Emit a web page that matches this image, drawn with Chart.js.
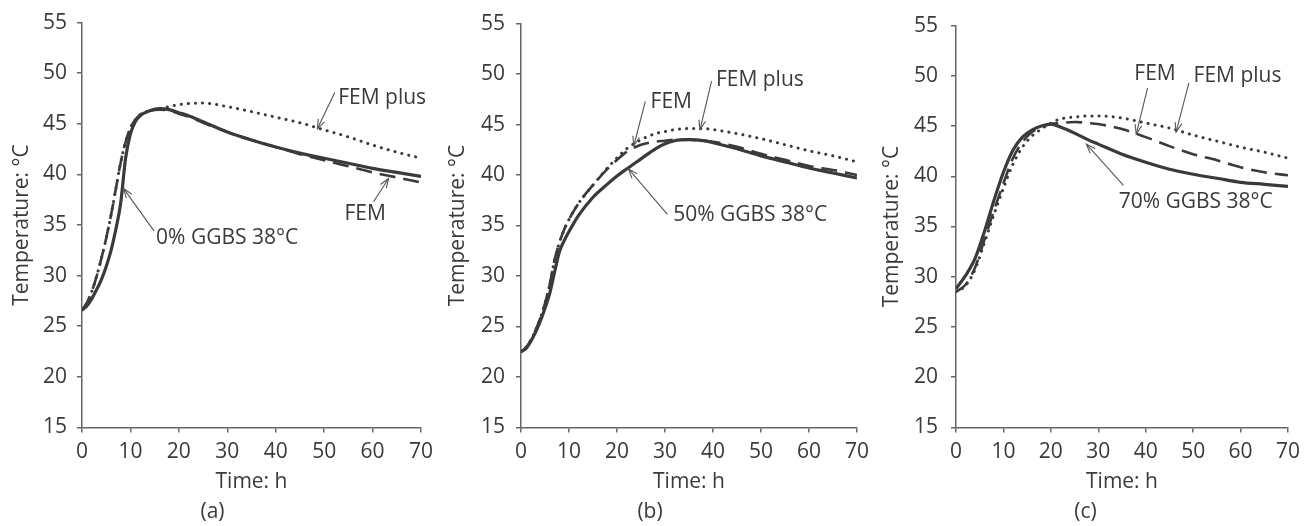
<!DOCTYPE html>
<html><head><meta charset="utf-8">
<script src="https://cdn.jsdelivr.net/npm/chart.js@4"></script>
<style>
html,body{margin:0;padding:0;background:#fff;width:1307px;height:526px;overflow:hidden}
canvas{position:absolute;top:0}
</style></head><body>
<canvas id="ca" width="440" height="526" style="left:0px"></canvas>
<canvas id="cb" width="437" height="526" style="left:439px"></canvas>
<canvas id="cc" width="433" height="526" style="left:874px"></canvas>
<script>
// ---- data (time in h, temperature in °C) ----
const xTicks = [0,10,20,30,40,50,60,70];
const yTicks = [15,20,25,30,35,40,45,50,55];

const timeA = [0,1,2,3,4,5,6,7,8,9,10,11,12,14,16,18,20,22,25,30,35,40,45,50,55,60,65,70];
const measuredA = [26.6,27.0,27.7,28.6,29.6,30.9,32.5,34.6,37.2,41.6,44.0,45.2,45.8,46.3,46.5,46.4,46.1,45.8,45.2,44.2,43.4,42.7,42.1,41.6,41.1,40.6,40.2,39.8];
const femA = [26.6,27.3,28.4,29.9,31.7,33.7,36.0,38.6,41.2,43.2,44.6,45.4,45.9,46.3,46.4,46.3,46.0,45.7,45.1,44.2,43.4,42.7,42.0,41.4,40.8,40.2,39.7,39.2];
const femPlusA = [26.6,27.3,28.4,29.9,31.7,33.7,36.0,38.6,41.2,43.2,44.6,45.4,45.9,46.3,46.5,46.7,46.9,47.0,47.05,46.7,46.2,45.65,45.1,44.4,43.7,42.9,42.2,41.6];

const timeB = [0,1,2,3,4,5,6,7,8,9,10,12,15,18,20,22,25,28,30,32,35,38,40,45,50,55,60,65,70];
const measuredB = [22.5,22.8,23.5,24.4,25.5,26.8,28.3,30.4,32.4,33.5,34.4,36.0,37.8,39.1,39.9,40.6,41.6,42.6,43.1,43.4,43.5,43.4,43.2,42.6,41.9,41.3,40.7,40.2,39.7];
const femB = [22.5,22.9,23.6,24.6,25.8,27.3,29.2,31.6,33.3,34.6,35.6,37.2,39.0,40.6,41.5,42.3,43.0,43.3,43.4,43.5,43.5,43.4,43.3,42.8,42.1,41.5,40.9,40.5,40.0];
const femPlusB = [22.5,22.9,23.6,24.6,25.8,27.3,29.2,31.6,33.3,34.6,35.6,37.2,39.0,40.7,41.7,42.6,43.5,44.1,44.3,44.5,44.6,44.6,44.5,44.1,43.6,43.0,42.4,41.9,41.3];

const timeC = [0,2,4,6,8,10,12,14,16,18,20,22,25,28,30,35,40,45,50,55,60,65,70];
const measuredC = [28.8,30.1,31.8,34.5,37.6,40.4,42.6,43.9,44.6,45.0,45.2,44.9,44.3,43.6,43.2,42.2,41.4,40.7,40.2,39.8,39.4,39.2,39.0];
const femC = [28.5,29.2,30.9,33.7,36.6,39.3,41.8,43.4,44.4,44.9,45.2,45.3,45.4,45.3,45.2,44.7,43.9,43.0,42.2,41.6,40.9,40.4,40.1];
const femPlusC = [28.5,29.1,30.7,33.4,36.2,38.8,41.2,42.9,44.0,44.7,45.3,45.7,45.9,46.0,46.0,45.8,45.3,44.8,44.1,43.5,42.9,42.4,41.8];

// ---- annotations (data units) ----
const notesA = [
  {text:'FEM plus', at:[52.9,47.5], from:[52.2,48.1], to:[48.6,44.5]},
  {text:'FEM', at:[54.2,36.1], from:[60.2,37.3], to:[63.3,39.6]},
  {text:'0% GGBS 38°C', at:[15.3,33.7], from:[14.9,34.4], to:[8.6,38.6]}
];
const notesB = [
  {text:'FEM plus', at:[40.6,49.4], from:[39.7,49.3], to:[37.3,44.5]},
  {text:'FEM', at:[27.0,47.2], from:[25.9,47.3], to:[23.5,42.9]},
  {text:'50% GGBS 38°C', at:[31.7,36.0], from:[30.5,36.1], to:[22.4,40.6]}
];
const notesC = [
  {text:'FEM', at:[37.6,50.2], from:[40.4,48.8], to:[38.0,44.2]},
  {text:'FEM plus', at:[50.1,50.0], from:[49.1,49.3], to:[46.4,44.4]},
  {text:'70% GGBS 38°C', at:[34.3,37.4], from:[35.3,39.1], to:[27.5,43.2]}
];

Chart.defaults.font.family = "'Open Sans', sans-serif";
Chart.defaults.color = '#3a3a3a';

const FONT = 21;
const AXIS = '#666';
const LINE = '#3a3a3a';
const TEXT = '#3a3a3a';

const notePlugin = {
  id: 'notes',
  afterDatasetsDraw(chart, args, opts) {
    const {ctx} = chart, xs = chart.scales.x, ys = chart.scales.y;
    ctx.save();
    (opts.items || []).forEach(n => {
      const x1 = xs.getPixelForValue(n.from[0]), y1 = ys.getPixelForValue(n.from[1]);
      const x2 = xs.getPixelForValue(n.to[0]), y2 = ys.getPixelForValue(n.to[1]);
      ctx.strokeStyle = '#555'; ctx.lineWidth = 1.1;
      ctx.beginPath(); ctx.moveTo(x1, y1); ctx.lineTo(x2, y2); ctx.stroke();
      const ang = Math.atan2(y2 - y1, x2 - x1), L = 10, a = 0.35;
      ctx.beginPath();
      ctx.moveTo(x2 - L * Math.cos(ang - a), y2 - L * Math.sin(ang - a));
      ctx.lineTo(x2, y2);
      ctx.lineTo(x2 - L * Math.cos(ang + a), y2 - L * Math.sin(ang + a));
      ctx.stroke();
      ctx.fillStyle = TEXT;
      ctx.font = FONT + "px 'Open Sans', sans-serif";
      ctx.textAlign = 'left'; ctx.textBaseline = 'middle';
      ctx.fillText(n.text, xs.getPixelForValue(n.at[0]), ys.getPixelForValue(n.at[1]));
    });
    ctx.restore();
  }
};

function pts(t, v) { return t.map((x, i) => ({x: x, y: v[i]})); }

function makeChart(id, letter, time, meas, fem, femPlus, notes, yWidth, yPad, yTitlePad, rightPad) {
  new Chart(document.getElementById(id), {
    type: 'scatter',
    data: {
      datasets: [
        {label: 'FEM plus', data: pts(time, femPlus), showLine: true, borderColor: LINE, borderWidth: 3,
         borderDash: [0.1, 7], borderCapStyle: 'round', pointRadius: 0, cubicInterpolationMode: 'monotone', order: 3},
        {label: 'FEM', data: pts(time, fem), showLine: true, borderColor: LINE, borderWidth: 2.6,
         borderDash: [16, 8], pointRadius: 0, cubicInterpolationMode: 'monotone', order: 2},
        {label: 'Measured', data: pts(time, meas), showLine: true, borderColor: LINE, borderWidth: 3.2,
         pointRadius: 0, cubicInterpolationMode: 'monotone', order: 1}
      ]
    },
    options: {
      responsive: false, animation: false, events: [],
      layout: {padding: {top: 20, right: rightPad, left: 0, bottom: 0}},
      plugins: {
        legend: {display: false}, tooltip: {enabled: false},
        title: {display: true, position: 'bottom', text: letter, color: TEXT,
                font: {size: FONT, weight: 'normal', lineHeight: 1.2}, padding: {top: 4, bottom: 1.4}},
        notes: {items: notes}
      },
      scales: {
        x: {
          type: 'linear', min: 0, max: 70,
          afterBuildTicks: s => { s.ticks = xTicks.map(v => ({value: v})); },
          afterFit: s => { s.height = 68; },
          ticks: {font: {size: FONT}, padding: 7, color: TEXT},
          grid: {display: true, drawOnChartArea: false, drawTicks: true, tickLength: 5, color: AXIS, lineWidth: 1.5},
          border: {display: true, color: AXIS, width: 1.5},
          title: {display: true, text: 'Time: h', color: TEXT, font: {size: FONT, lineHeight: 1.2}, padding: {top: 0, bottom: 0.5}}
        },
        y: {
          type: 'linear', min: 15, max: 55,
          afterBuildTicks: s => { s.ticks = yTicks.map(v => ({value: v})); },
          afterFit: s => { s.width = yWidth; },
          ticks: {font: {size: FONT}, padding: yPad, color: TEXT},
          grid: {display: true, drawOnChartArea: false, drawTicks: true, tickLength: 5, color: AXIS, lineWidth: 1.5},
          border: {display: true, color: AXIS, width: 1.5},
          title: {display: true, text: 'Temperature: °C', color: TEXT, font: {size: FONT, lineHeight: 1.2}, padding: {top: yTitlePad, bottom: 0}}
        }
      }
    },
    plugins: [notePlugin]
  });
}

makeChart('ca', '(a)', timeA, measuredA, femA, femPlusA, notesA, 82, 10, 9.4, 15);
makeChart('cb', '(b)', timeB, measuredB, femB, femPlusB, notesB, 82, 11, 6.4, 15);
makeChart('cc', '(c)', timeC, measuredC, femC, femPlusC, notesC, 82, 13, 5.4, 10);
</script>
</body></html>
